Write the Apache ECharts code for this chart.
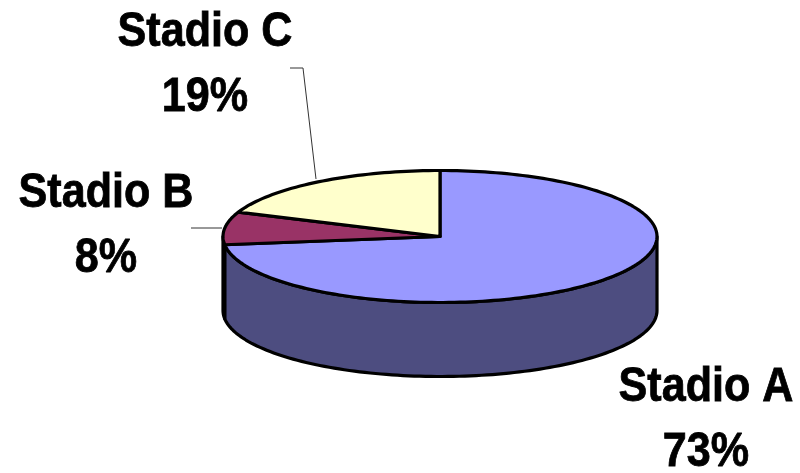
<!DOCTYPE html>
<html>
<head>
<meta charset="utf-8">
<style>html,body{margin:0;padding:0;background:#fff}#c{width:800px;height:473px}</style>
<script src="https://cdn.jsdelivr.net/npm/echarts@6/dist/echarts.min.js"></script>
</head>
<body>
<div id="c"></div>
<script>
const categories = ['Stadio A', 'Stadio B', 'Stadio C'];
const values = [73, 8, 19];

const topColors = ['#9999FF', '#993366', '#FFFFCC'];
const sideColors = ['#4D4D80', '#4D1A33', '#808066'];
const labelCentres = [[706, 420], [106, 226], [205, 65]];
const leaderLines = [null, [[191, 228], [222, 228]], [[290, 68], [303, 68], [316, 179]]];
const pie = { cx: 440, cy: 236.5, rx: 217, ry: 66, depth: 74 };

const total = values.reduce((a, b) => a + b, 0);
const startOf = i => values.slice(0, i).reduce((a, b) => a + b, 0) / total * 360;
const pt = (deg, dy) => {
  const r = deg * Math.PI / 180;
  return [pie.cx + pie.rx * Math.sin(r), pie.cy - pie.ry * Math.cos(r) + (dy || 0)];
};
const arc = (a, b, dy) => {
  const n = Math.max(2, Math.ceil(Math.abs(b - a) / 1.5));
  const out = [];
  for (let k = 0; k <= n; k++) out.push(pt(a + (b - a) * k / n, dy));
  return out;
};
const ink = { stroke: '#000', lineWidth: 3.2, lineJoin: 'round' };

function sides(params, api) {
  const i = params.dataIndex;
  const a = Math.max(startOf(i), 90);
  const b = Math.min(startOf(i) + api.value(0) / total * 360, 270);
  if (b <= a) return { type: 'group', children: [] };
  const points = arc(a, b, 0).concat(arc(b, a, pie.depth));
  return {
    type: 'polygon', shape: { points },
    style: Object.assign({ fill: sideColors[i] }, ink)
  };
}

function tops(params, api) {
  const i = params.dataIndex;
  const a = startOf(i);
  const b = a + api.value(0) / total * 360;
  const children = [{
    type: 'polygon',
    shape: { points: [[pie.cx, pie.cy]].concat(arc(a, b, 0)) },
    style: Object.assign({ fill: topColors[i] }, ink)
  }];
  if (leaderLines[i]) {
    children.push({
      type: 'polyline', shape: { points: leaderLines[i] },
      style: { fill: null, stroke: '#333', lineWidth: 1 }
    });
  }
  children.push({
    type: 'text',
    x: labelCentres[i][0], y: labelCentres[i][1],
    scaleX: 0.88,
    style: {
      text: categories[i] + '\n' + api.value(0) + '%',
      fontFamily: '"Liberation Sans", Arial, sans-serif',
      fontWeight: 'bold', fontSize: 49, lineHeight: 65,
      fill: '#000', stroke: '#000', lineWidth: 0.8,
      align: 'center', verticalAlign: 'middle'
    }
  });
  return { type: 'group', children };
}

const chart = echarts.init(document.getElementById('c'), null, { renderer: 'canvas' });
chart.setOption({
  animation: false,
  backgroundColor: '#fff',
  series: [
    { type: 'custom', coordinateSystem: 'none', silent: true, renderItem: sides, data: values, z: 1 },
    { type: 'custom', coordinateSystem: 'none', silent: true, renderItem: tops, data: values, z: 2 }
  ]
});
</script>
</body>
</html>
